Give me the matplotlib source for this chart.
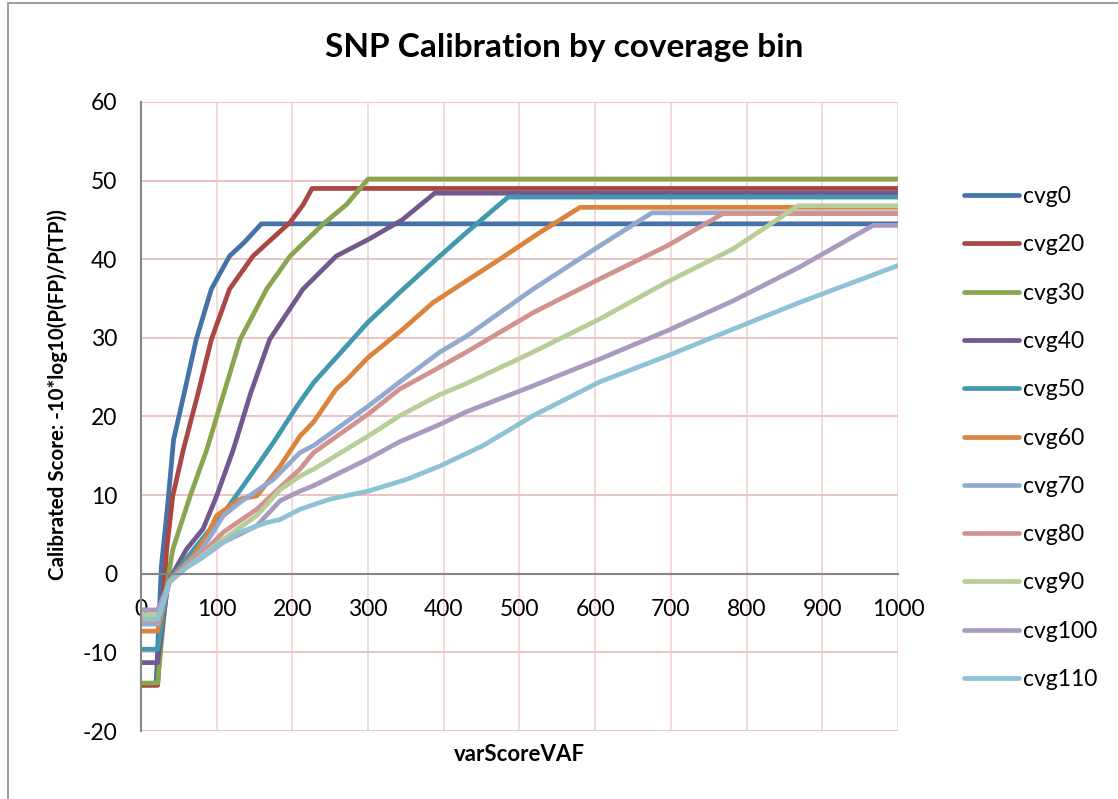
import matplotlib
matplotlib.use("Agg")
import matplotlib.pyplot as plt
from matplotlib.patches import Rectangle

plt.rcParams["font.family"] = ["Lato", "DejaVu Sans"]
plt.rcParams["axes.unicode_minus"] = False

# values
series_names = ["cvg0", "cvg20", "cvg30", "cvg40", "cvg50", "cvg60",
                "cvg70", "cvg80", "cvg90", "cvg100", "cvg110"]

cvg0_x = [0, 20, 27, 36, 43, 56, 73, 93, 117, 137, 159, 1000]
cvg0_y = [-14.0, -14.0, 1.0, 9.5, 17.0, 22.5, 29.8, 36.2, 40.4, 42.2, 44.5, 44.5]

cvg20_x = [0, 22, 34, 42, 56, 75, 93, 117, 148, 197, 214, 226, 1000]
cvg20_y = [-14.2, -14.2, 3.1, 9.9, 15.8, 22.8, 29.8, 36.2, 40.4, 44.7, 46.9, 49.0, 49.0]

cvg30_x = [0, 22, 34, 42, 65, 87, 108, 131, 166, 197, 241, 272, 300, 1000]
cvg30_y = [-13.9, -13.9, -1.6, 3.1, 9.9, 15.8, 22.5, 29.8, 36.2, 40.4, 44.5, 47.0, 50.2, 50.2]

cvg40_x = [0, 22, 36, 60, 82, 100, 122, 145, 170, 214, 258, 302, 345, 388, 1000]
cvg40_y = [-11.3, -11.3, -1.0, 3.1, 5.7, 9.9, 15.8, 23.0, 29.8, 36.2, 40.4, 42.6, 45.0, 48.4, 48.4]

cvg50_x = [0, 22, 36, 73, 113, 144, 175, 206, 228, 272, 300, 342, 382, 430, 485, 1000]
cvg50_y = [-9.6, -9.6, -1.0, 3.5, 8.2, 12.4, 16.7, 21.3, 24.3, 29.0, 32.0, 35.8, 39.3, 43.4, 47.9, 47.9]

cvg60_x = [0, 22, 36, 69, 87, 100, 131, 153, 184, 210, 228, 258, 272, 300, 346, 386, 474, 527, 580, 1000]
cvg60_y = [-7.3, -7.3, -1.0, 2.3, 4.8, 7.4, 9.5, 9.9, 13.7, 17.5, 19.3, 23.5, 24.7, 27.5, 31.1, 34.5, 40.0, 43.4, 46.6, 46.6]

cvg70_x = [0, 22, 38, 60, 80, 109, 131, 175, 210, 228, 300, 342, 395, 430, 518, 606, 675, 1000]
cvg70_y = [-6.4, -6.4, -1.0, 1.2, 3.0, 7.4, 9.1, 12.0, 15.4, 16.3, 21.3, 24.4, 28.2, 30.2, 36.2, 41.7, 45.9, 45.9]

cvg80_x = [0, 22, 38, 60, 80, 109, 153, 184, 210, 228, 300, 342, 382, 430, 518, 606, 695, 769, 1000]
cvg80_y = [-6.0, -6.0, -1.0, 1.0, 2.5, 5.3, 8.2, 11.0, 13.3, 15.4, 20.3, 23.5, 25.6, 28.2, 33.2, 37.5, 41.7, 45.8, 45.8]

cvg90_x = [0, 22, 38, 60, 80, 109, 153, 184, 210, 228, 300, 342, 395, 430, 518, 606, 695, 782, 868, 1000]
cvg90_y = [-5.2, -5.2, -1.0, 0.8, 2.2, 4.4, 7.4, 10.7, 12.4, 13.3, 17.5, 20.1, 22.8, 24.2, 28.2, 32.4, 37.1, 41.3, 46.8, 46.8]

cvg100_x = [0, 22, 38, 60, 80, 109, 153, 184, 210, 228, 300, 342, 395, 430, 518, 606, 695, 782, 870, 967, 1000]
cvg100_y = [-4.6, -4.6, -1.0, 0.8, 2.0, 4.0, 6.1, 9.3, 10.5, 11.2, 14.6, 16.8, 19.0, 20.6, 23.9, 27.3, 30.9, 34.7, 39.0, 44.3, 44.3]

cvg110_x = [0, 22, 38, 60, 80, 100, 131, 166, 184, 210, 250, 300, 351, 395, 452, 518, 606, 695, 782, 870, 1000]
cvg110_y = [-5.8, -5.8, -1.0, 0.8, 2.0, 3.5, 5.3, 6.5, 6.9, 8.2, 9.5, 10.5, 12.0, 13.7, 16.3, 20.1, 24.4, 27.7, 31.1, 34.5, 39.2]

all_x = [cvg0_x, cvg20_x, cvg30_x, cvg40_x, cvg50_x, cvg60_x,
         cvg70_x, cvg80_x, cvg90_x, cvg100_x, cvg110_x]
all_y = [cvg0_y, cvg20_y, cvg30_y, cvg40_y, cvg50_y, cvg60_y,
         cvg70_y, cvg80_y, cvg90_y, cvg100_y, cvg110_y]

colors = ["#4572A7", "#AA4643", "#89A54E", "#71588F", "#4198AF", "#DB843D",
          "#93A9CF", "#D19392", "#B9CD96", "#A99BBD", "#8EC3D6"]

x_ticks = list(range(0, 1001, 100))
y_ticks = list(range(-20, 61, 10))

fig = plt.figure(figsize=(11.18, 7.99), dpi=100)
ax = fig.add_axes([0.1261, 0.0851, 0.6771, 0.7873])

for xs, ys, name, c in zip(all_x, all_y, series_names, colors):
    ax.plot(xs, ys, color=c, lw=3.4, label=name,
            solid_capstyle="round", solid_joinstyle="round")

ax.set_xlim(0, 1000)
ax.set_ylim(-20, 60)
ax.set_xticks(x_ticks)
ax.set_yticks(y_ticks)
ax.grid(True, axis="y", color="#EBC3C2", lw=1.4)
ax.grid(True, axis="x", color="#F3DADA", lw=1.4)
ax.set_axisbelow(True)

for s in ["top", "right"]:
    ax.spines[s].set_visible(False)
ax.spines["bottom"].set_position(("data", 0))
ax.spines["bottom"].set_color("#868686")
ax.spines["left"].set_color("#868686")
ax.spines["bottom"].set_linewidth(1.5)
ax.spines["left"].set_linewidth(1.5)

ax.tick_params(axis="x", length=0, pad=18, labelsize=16.5)
ax.tick_params(axis="y", length=0, pad=17, labelsize=16.5)

fig.text(0.505, 1 - 47 / 799, "SNP Calibration by coverage bin", fontsize=24,
         fontweight="bold", ha="center", va="center")
ax.set_xlabel("varScoreVAF", fontsize=16, fontweight="bold")
ax.xaxis.label.set_va("center")
ax.xaxis.set_label_coords(0.5, -0.038)
ax.set_ylabel("Calibrated Score: -10*log10(P(FP)/P(TP))", fontsize=14.8, fontweight="bold")
ax.yaxis.label.set_va("center")
ax.yaxis.set_label_coords(-0.11, 0.535)

ax.legend(loc="upper left", bbox_to_anchor=(0.862, 0.767), bbox_transform=fig.transFigure,
          frameon=False, fontsize=16.5, handlelength=2.4, handletextpad=0.2,
          labelspacing=1.19, borderpad=0, borderaxespad=0)

# chart area frame
fig.patches.append(Rectangle((8 / 1118, -0.1), 1.2, 1.1 - 3 / 799, transform=fig.transFigure,
                             fill=False, edgecolor="#8C8C8C", lw=1.2))

fig.savefig("out.png", dpi=100)
